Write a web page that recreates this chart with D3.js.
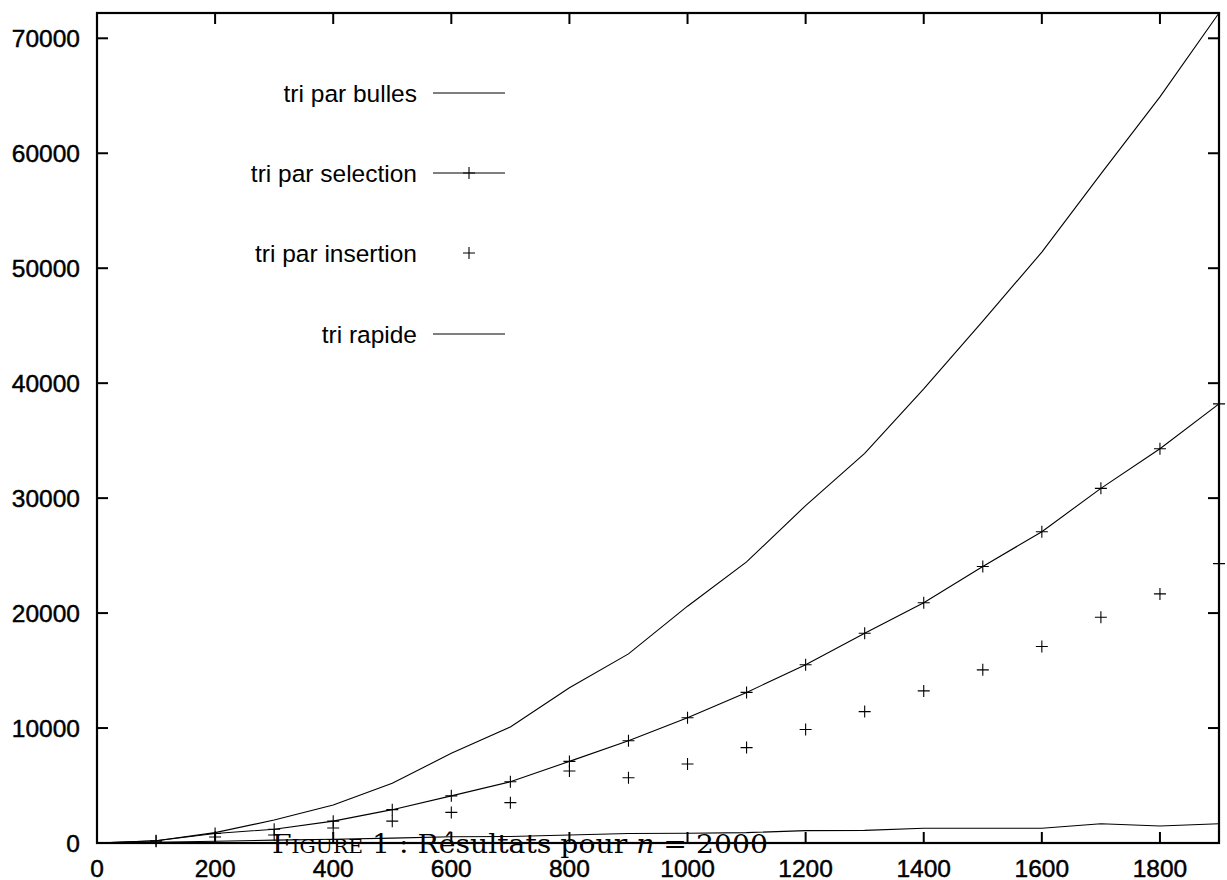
<!DOCTYPE html>
<html>
<head>
<meta charset="utf-8">
<script src="https://cdn.jsdelivr.net/npm/d3@7/dist/d3.min.js"></script>
<style>
  body { margin: 0; background: #fff; }
  svg { display: block; }
  .tick-label { font-family: "Liberation Sans", Arial, sans-serif; font-size: 24.5px; fill: #000; stroke: #000; stroke-width: 0.45px; }
  .legend-label { font-family: "Liberation Sans", Arial, sans-serif; font-size: 24.5px; fill: #000; }
  .caption { font-family: "DejaVu Serif", "Liberation Serif", serif; font-size: 26.5px; fill: #000; }
</style>
</head>
<body>
<svg id="chart" width="1227" height="880"></svg>
<script>
const sizes = [0, 100, 200, 300, 400, 500, 600, 700, 800, 900, 1000,
  1100, 1200, 1300, 1400, 1500, 1600, 1700, 1800, 1900];

const bulles = [0, 200, 900, 2000, 3300, 5200, 7800, 10100, 13500, 16450, 20600,
  24450, 29350, 33900, 39500, 45400, 51400, 58200, 64900, 72200];
const selection = [0, 200, 820, 1200, 1900, 2900, 4100, 5330, 7100, 8900, 10900,
  13100, 15500, 18250, 20900, 24050, 27080, 30850, 34300, 38200];
const insertion = [0, 150, 520, 700, 1300, 1900, 2660, 3510, 6260, 5680, 6870,
  8300, 9870, 11430, 13230, 15060, 17090, 19640, 21670, 24300];
const rapide = [0, 60, 150, 250, 320, 420, 550, 560, 700, 820, 850,
  900, 1080, 1100, 1280, 1280, 1280, 1680, 1480, 1680];

const xTicks = [0, 200, 400, 600, 800, 1000, 1200, 1400, 1600, 1800];
const yTicks = [0, 10000, 20000, 30000, 40000, 50000, 60000, 70000];

const legendNames = ['tri par bulles', 'tri par selection', 'tri par insertion', 'tri rapide'];

const frame = { left: 97, right: 1219, top: 13, bottom: 843 };

const x = d3.scaleLinear()
  .domain([0, 1900])
  .range([frame.left, frame.right]);

const y = d3.scaleLinear()
  .domain([0, 72200])
  .range([frame.bottom, frame.top]);

const svg = d3.select('#chart');

const series = [
  { name: legendNames[0], values: bulles, line: true, points: false },
  { name: legendNames[1], values: selection, line: true, points: true },
  { name: legendNames[2], values: insertion, line: false, points: true },
  { name: legendNames[3], values: rapide, line: true, points: false }
];

const line = d3.line()
  .x(d => x(d.x))
  .y(d => y(d.y));

const plus = (sel, s = 6) => {
  sel.append('path')
    .attr('d', `M${-s},0H${s}M0,${-s}V${s}`)
    .attr('stroke', '#000')
    .attr('stroke-width', 1.1)
    .attr('fill', 'none');
};

// Ticks on all four sides, pointing inward.
const ticks = svg.append('g').attr('stroke', '#000').attr('stroke-width', 2);
const tickLen = 11;

ticks.selectAll('line.xb')
  .data(xTicks)
  .enter()
    .append('line')
    .attr('x1', d => x(d)).attr('x2', d => x(d))
    .attr('y1', frame.bottom).attr('y2', frame.bottom - tickLen);

ticks.selectAll('line.xt')
  .data(xTicks)
  .enter()
    .append('line')
    .attr('x1', d => x(d)).attr('x2', d => x(d))
    .attr('y1', frame.top).attr('y2', frame.top + tickLen);

ticks.selectAll('line.yl')
  .data(yTicks)
  .enter()
    .append('line')
    .attr('x1', frame.left).attr('x2', frame.left + tickLen)
    .attr('y1', d => y(d)).attr('y2', d => y(d));

ticks.selectAll('line.yr')
  .data(yTicks)
  .enter()
    .append('line')
    .attr('x1', frame.right).attr('x2', frame.right - tickLen)
    .attr('y1', d => y(d)).attr('y2', d => y(d));

svg.append('g')
  .selectAll('text')
  .data(yTicks)
  .enter()
    .append('text')
    .attr('class', 'tick-label')
    .attr('x', 80)
    .attr('y', d => y(d))
    .attr('dy', '0.36em')
    .attr('text-anchor', 'end')
    .text(d => d);

svg.append('g')
  .selectAll('text')
  .data(xTicks)
  .enter()
    .append('text')
    .attr('class', 'tick-label')
    .attr('x', d => x(d))
    .attr('y', 877)
    .attr('text-anchor', 'middle')
    .text(d => d);

// Data
const plot = svg.append('g');

series.forEach(s => {
  const pts = sizes.map((v, i) => ({ x: v, y: s.values[i] }));
  if (s.line) {
    plot.append('path')
      .datum(pts)
      .attr('d', line)
      .attr('fill', 'none')
      .attr('stroke', '#000')
      .attr('stroke-width', 1.1);
  }
  if (s.points) {
    plot.append('g')
      .selectAll('g')
      .data(pts.slice(1))
      .enter()
        .append('g')
        .attr('transform', d => `translate(${x(d.x)},${y(d.y)})`)
        .each(function () { plus(d3.select(this)); });
  }
});

// Legend
const legend = svg.append('g');
const legendY = [93, 173, 253, 334];

series.forEach((s, i) => {
  const row = legend.append('g').attr('transform', `translate(0,${legendY[i]})`);
  row.append('text')
    .attr('class', 'legend-label')
    .attr('x', 417)
    .attr('dy', '0.36em')
    .attr('text-anchor', 'end')
    .text(s.name);
  if (s.line) {
    row.append('line')
      .attr('x1', 433).attr('x2', 505)
      .attr('stroke', '#000')
      .attr('stroke-width', 1.1);
  }
  if (s.points) {
    plus(row.append('g').attr('transform', 'translate(469,0)'));
  }
});

// Frame
svg.append('rect')
  .attr('x', frame.left)
  .attr('y', frame.top)
  .attr('width', frame.right - frame.left)
  .attr('height', frame.bottom - frame.top)
  .attr('fill', 'none')
  .attr('stroke', '#000')
  .attr('stroke-width', 2.2);

// Caption overlapping the bottom of the plot, as in the source document.
const caption = svg.append('text')
  .attr('class', 'caption')
  .attr('x', 272)
  .attr('y', 853)
  .attr('textLength', 496)
  .attr('lengthAdjust', 'spacingAndGlyphs');

caption.append('tspan').style('font-variant', 'small-caps').text('Figure');
caption.append('tspan').text(' 1 : Résultats pour ');
caption.append('tspan').style('font-style', 'italic').text('n');
caption.append('tspan').text(' = 2000');
</script>
</body>
</html>
